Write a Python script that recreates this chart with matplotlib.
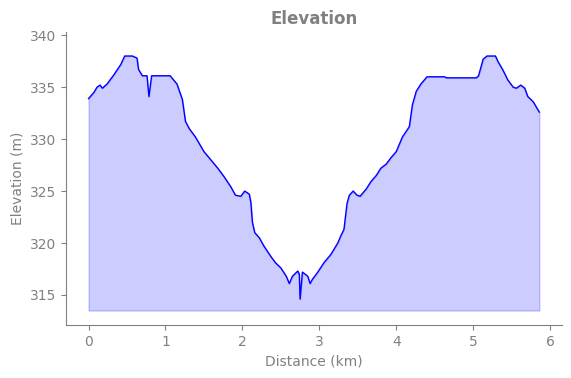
import matplotlib
matplotlib.use("Agg")
import matplotlib.pyplot as plt

# perfil de elevação
distancia_km = [
    0.00, 0.07, 0.11, 0.15, 0.18, 0.24, 0.33, 0.42, 0.47, 0.57,
    0.63, 0.65, 0.70, 0.76, 0.785, 0.82, 1.06, 1.15, 1.22, 1.26,
    1.31, 1.39, 1.50, 1.59, 1.68, 1.76, 1.85, 1.91, 1.98, 2.03,
    2.09, 2.11, 2.13, 2.16, 2.22, 2.28, 2.37, 2.43, 2.50, 2.57,
    2.61, 2.65, 2.72, 2.74, 2.75, 2.78, 2.85, 2.88, 2.91, 2.98,
    3.06, 3.15, 3.24, 3.28, 3.32, 3.36, 3.39, 3.44, 3.49, 3.53,
    3.61, 3.67, 3.74, 3.80, 3.87, 3.93, 4.00, 4.04, 4.08, 4.17,
    4.21, 4.26, 4.32, 4.40, 4.63, 4.65, 5.04, 5.07, 5.10, 5.13,
    5.18, 5.29, 5.32, 5.39, 5.45, 5.52, 5.56, 5.62, 5.67, 5.71,
    5.78, 5.86,
]
elevacao_m = [
    333.9, 334.5, 335.0, 335.2, 334.9, 335.3, 336.2, 337.2, 338.0, 338.0,
    337.8, 336.7, 336.1, 336.1, 334.1, 336.1, 336.1, 335.3, 333.8, 331.7,
    331.0, 330.2, 328.8, 328.0, 327.2, 326.4, 325.4, 324.6, 324.5, 325.0,
    324.7, 323.9, 322.0, 321.0, 320.5, 319.7, 318.7, 318.1, 317.6, 316.8,
    316.1, 316.8, 317.3, 317.0, 314.6, 317.2, 316.8, 316.1, 316.5, 317.2,
    318.1, 318.9, 320.0, 320.7, 321.3, 323.8, 324.6, 325.0, 324.6, 324.5,
    325.2, 325.9, 326.5, 327.2, 327.6, 328.2, 328.8, 329.5, 330.2, 331.2,
    333.3, 334.6, 335.3, 336.0, 336.0, 335.9, 335.9, 336.1, 336.9, 337.7,
    338.0, 338.0, 337.5, 336.6, 335.7, 335.0, 334.9, 335.2, 334.9, 334.1,
    333.6, 332.6,
]

cinza = "grey"
base = 313.5

fig, ax = plt.subplots(figsize=(5.71, 3.78), dpi=100)
fig.subplots_adjust(left=0.1156, right=0.984, bottom=0.140, top=0.915)

ax.fill_between(distancia_km, elevacao_m, base, color="blue", alpha=0.2)
ax.plot(distancia_km, elevacao_m, color="blue", linewidth=1)

ax.set_ylim(312.1, 340.3)
ax.set_title("Elevation", color=cinza, fontweight="bold", fontsize=12)
ax.set_xlabel("Distance (km)", color=cinza)
ax.set_ylabel("Elevation (m)", color=cinza)

ax.spines["top"].set_visible(False)
ax.spines["right"].set_visible(False)
ax.spines["left"].set_color(cinza)
ax.spines["bottom"].set_color(cinza)
ax.tick_params(colors=cinza, labelcolor=cinza)

fig.savefig("out.png", dpi=100)
